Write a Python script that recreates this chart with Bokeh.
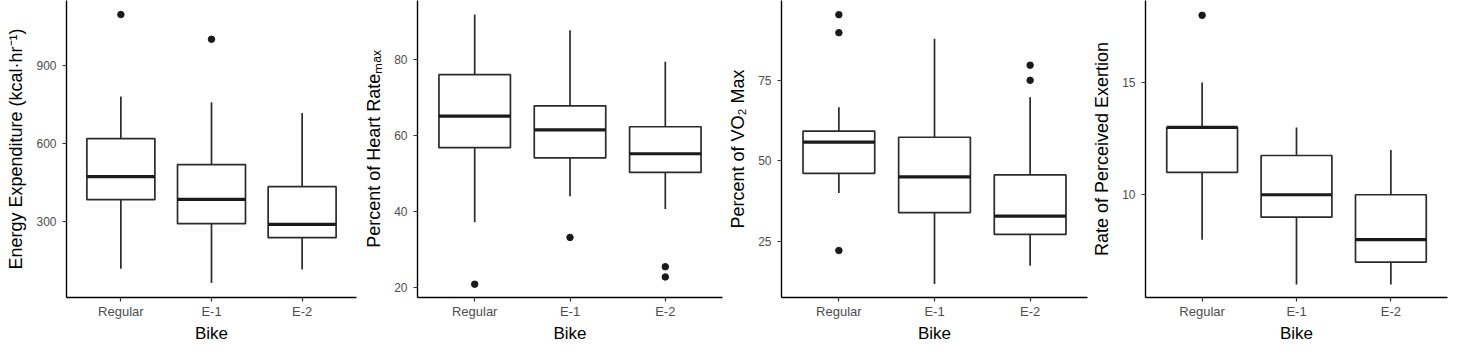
from bokeh.plotting import figure
from bokeh.layouts import row
from bokeh.models import Range1d, FixedTicker
from bokeh.embed import file_html
from bokeh.resources import INLINE

categories = ["Regular", "E-1", "E-2"]

# Energy expenditure (kcal/hr)
ee_lower = [118, 63, 115]
ee_q1 = [383, 291, 237]
ee_median = [472, 384, 288]
ee_q3 = [618, 518, 433]
ee_upper = [780, 758, 716]
ee_outlier_cat = ["Regular", "E-1"]
ee_outlier_val = [1095, 1000]

# Percent of heart rate max
hr_lower = [37.1, 43.9, 40.6]
hr_q1 = [56.7, 54.0, 50.2]
hr_median = [65.0, 61.4, 55.1]
hr_q3 = [75.9, 67.7, 62.2]
hr_upper = [91.7, 87.6, 79.3]
hr_outlier_cat = ["Regular", "E-1", "E-2", "E-2"]
hr_outlier_val = [20.8, 33.1, 25.4, 22.7]

# Percent of VO2 max
vo_lower = [40.0, 11.7, 17.4]
vo_q1 = [46.1, 33.9, 27.1]
vo_median = [55.8, 45.0, 32.8]
vo_q3 = [59.2, 57.3, 45.6]
vo_upper = [66.6, 87.9, 69.7]
vo_outlier_cat = ["Regular", "Regular", "Regular", "E-2", "E-2"]
vo_outlier_val = [95.4, 89.8, 22.1, 79.7, 75.0]

# Rate of perceived exertion
rpe_lower = [8, 6, 6]
rpe_q1 = [11, 9, 7]
rpe_median = [13, 10, 8]
rpe_q3 = [13, 11.75, 10]
rpe_upper = [15, 13, 12]
rpe_outlier_cat = ["Regular"]
rpe_outlier_val = [18]

panels = [
    dict(title="Energy Expenditure (kcal\u00b7hr\u207b\u00b9)", lower=ee_lower, q1=ee_q1, med=ee_median,
         q3=ee_q3, upper=ee_upper, ocat=ee_outlier_cat, oval=ee_outlier_val,
         yr=(7, 1149), ticks=[300, 600, 900], width=358, left=66),
    dict(title="Percent of Heart Rate\u2098\u2090\u2093", lower=hr_lower, q1=hr_q1, med=hr_median,
         q3=hr_q3, upper=hr_upper, ocat=hr_outlier_cat, oval=hr_outlier_val,
         yr=(17.3, 95.4), ticks=[20, 40, 60, 80], width=366, left=59),
    dict(title="Percent of VO\u2082 Max", lower=vo_lower, q1=vo_q1, med=vo_median,
         q3=vo_q3, upper=vo_upper, ocat=vo_outlier_cat, oval=vo_outlier_val,
         yr=(7.5, 99.8), ticks=[25, 50, 75], width=365, left=57),
    dict(title="Rate of Perceived Exertion", lower=rpe_lower, q1=rpe_q1, med=rpe_median,
         q3=rpe_q3, upper=rpe_upper, ocat=rpe_outlier_cat, oval=rpe_outlier_val,
         yr=(5.42, 18.66), ticks=[10, 15], width=360, left=56),
]

FONT = "Liberation Sans"
BOX_COLOR = "#2b2b2b"
half = 0.375
xs = list(range(len(categories)))

figs = []
for pd_ in panels:
    p = figure(width=pd_["width"], height=345, output_backend="svg", toolbar_location=None,
               x_range=Range1d(-0.6, 2.6), y_range=Range1d(*pd_["yr"]),
               min_border_left=pd_["left"], min_border_right=2, min_border_top=0,
               min_border_bottom=40)
    p.outline_line_color = None
    p.xgrid.visible = False
    p.ygrid.visible = False
    p.background_fill_color = "white"
    p.border_fill_color = "white"

    # whiskers
    p.segment(x0=xs, y0=pd_["q3"], x1=xs, y1=pd_["upper"], line_color=BOX_COLOR, line_width=1.7)
    p.segment(x0=xs, y0=pd_["q1"], x1=xs, y1=pd_["lower"], line_color=BOX_COLOR, line_width=1.7)
    # boxes
    p.vbar(x=xs, width=2 * half, top=pd_["q3"], bottom=pd_["q1"], fill_color="white",
           line_color=BOX_COLOR, line_width=1.7)
    # medians
    p.segment(x0=[x - half for x in xs], y0=pd_["med"], x1=[x + half for x in xs], y1=pd_["med"],
              line_color="#1a1a1a", line_width=3.2)
    # outliers
    ox = [categories.index(c) for c in pd_["ocat"]]
    p.scatter(x=ox, y=pd_["oval"], size=6.5, color="#1a1a1a")

    for ax in (p.xaxis[0], p.yaxis[0]):
        ax.axis_line_color = "black"
        ax.axis_line_width = 1.4
        ax.major_tick_line_color = "#333333"
        ax.major_tick_line_width = 1.2
        ax.major_tick_out = 4
        ax.major_tick_in = 0
        ax.minor_tick_line_color = None
        ax.major_label_text_font = FONT
        ax.major_label_text_color = "#4d4d4d"
        ax.axis_label_text_font = FONT
        ax.axis_label_text_font_style = "normal"
        ax.axis_label_text_color = "black"

    p.xaxis.ticker = FixedTicker(ticks=xs)
    p.xaxis.major_label_overrides = {i: c for i, c in enumerate(categories)}
    p.xaxis.axis_label = "Bike"
    p.xaxis.axis_label_text_font_size = "17px"
    p.xaxis.major_label_text_font_size = "13px"
    p.xaxis.major_label_standoff = 2
    p.xaxis.axis_label_standoff = 2

    p.yaxis.ticker = FixedTicker(ticks=pd_["ticks"])
    p.yaxis.axis_label = pd_["title"]
    p.yaxis.axis_label_text_font_size = "18px"
    p.yaxis.major_label_text_font_size = "12px"
    p.yaxis.major_label_standoff = 6
    p.yaxis.axis_label_standoff = 7
    figs.append(p)

layout = row(*figs, spacing=0)
open("out.html", "w").write(file_html(layout, INLINE))
